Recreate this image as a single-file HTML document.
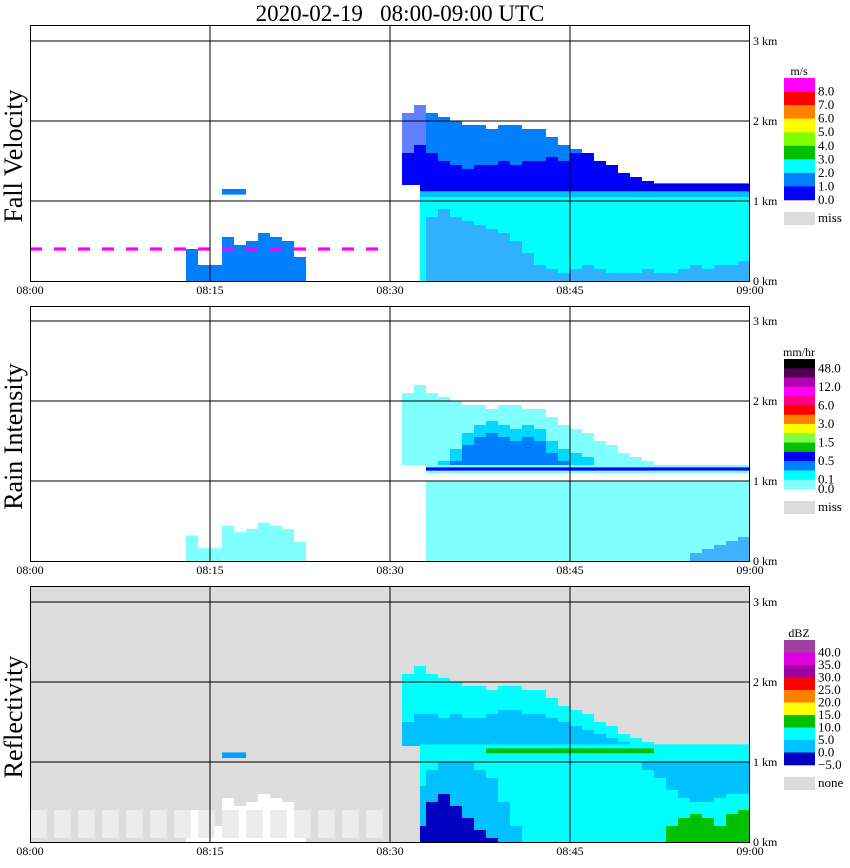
<!DOCTYPE html>
<html><head><meta charset="utf-8"><style>
body{margin:0;background:#fff;width:850px;height:868px;overflow:hidden}
svg{display:block}
text{font-family:"Liberation Serif",serif;fill:#000}
</style></head><body>
<svg id="chart" width="850" height="868" xmlns="http://www.w3.org/2000/svg">
<text x="400" y="21" font-size="23" text-anchor="middle" xml:space="preserve">2020-02-19   08:00-09:00 UTC</text>
<g id="plots"></g>
</svg>
<script>
// ---- data (time in minutes after 08:00, heights in km) ----
const colMin = [31,32,33,34,35,36,37,38,39,40,41,42,43,44,45,46,47,48,49,50,51,52,53,54,55,56,57,58,59];
const cloudTop = [2.1,2.2,2.1,2.05,2.0,1.95,1.95,1.9,1.95,1.95,1.9,1.9,1.8,1.7,1.65,1.6,1.5,1.45,1.35,1.3,1.25,1.2,1.2,1.2,1.2,1.2,1.2,1.2,1.2];
const fallDarkTop = [1.6,1.7,1.6,1.5,1.45,1.4,1.45,1.45,1.5,1.45,1.5,1.5,1.55,1.5,1.6,1.6,1.5,1.45,1.35,1.3,1.25,1.2,1.2,1.2,1.2,1.2,1.2,1.2,1.2];
const rainBlueTop = [0,0,1.3,1.35,1.5,1.7,1.8,1.85,1.8,1.75,1.8,1.75,1.6,1.5,1.45,1.4,1.3,1.25,1.2,1.2,1.2,1.2,1.2,1.2,1.2,1.2,1.2,1.2,1.2];
const reflSkyTop = [1.5,1.6,1.6,1.55,1.6,1.55,1.55,1.6,1.65,1.65,1.6,1.6,1.55,1.5,1.45,1.4,1.35,1.3,1.25,1.2,1.2,1.2,1.2,1.2,1.2,1.2,1.2,1.2,1.2];
const fallLowBlue = [0,0,0.8,0.9,0.8,0.75,0.7,0.65,0.6,0.5,0.35,0.2,0.15,0.1,0.15,0.2,0.15,0.1,0.1,0.1,0.15,0.1,0.1,0.15,0.2,0.15,0.2,0.2,0.25];
const rainLowBlue = [0,0,0,0,0,0,0,0,0,0,0,0,0,0,0,0,0,0,0,0,0,0,0,0,0.1,0.15,0.2,0.25,0.3];
const reflLowSky = [0,0.7,0.9,1.0,1.0,1.0,0.9,0.8,0.5,0.2,0,0,0,0,0,0,0,0,0,0,0,0,0,0,0,0,0,0,0];
const reflLowDark = [0,0.2,0.5,0.6,0.45,0.3,0.15,0.05,0,0,0,0,0,0,0,0,0,0,0,0,0,0,0,0,0,0,0,0,0];
const reflHangBottom = [1,1,1,1,1,1,1,1,1,1,1,1,1,1,1,1,1,1,1,1,0.9,0.8,0.65,0.55,0.5,0.5,0.55,0.6,0.6];
const reflGreenTop = [0,0,0,0,0,0,0,0,0,0,0,0,0,0,0,0,0,0,0,0,0,0,0.2,0.3,0.35,0.3,0.2,0.35,0.4];
const greenStart = 38, greenEnd = 52;
const leftBlobMin = [13,14,15,16,17,18,19,20,21,22];
const leftBlobTop = [0.4,0.2,0.2,0.55,0.45,0.5,0.6,0.55,0.5,0.3];
const dotMin = [0,2,4,6,8,10,12,14,16,18,20,22,24,26,28];
const xTicks = ["08:00","08:15","08:30","08:45","09:00"];
const yTicks = ["0 km","1 km","2 km","3 km"];
const panels = [
 {name:"fall-velocity",title:"Fall Velocity",top:25,base:281,bg:"#fff",unit:"m/s",
  colors:["#ff00ff","#ff0000","#ff8000","#ffff00","#80ff00","#00c000","#00ffff","#0080ff","#0000ff"],
  labels:["8.0","7.0","6.0","5.0","4.0","3.0","2.0","1.0","0.0"],legTop:78,legH:122,miss:"miss"},
 {name:"rain-intensity",title:"Rain Intensity",top:306,base:561,bg:"#fff",unit:"mm/hr",
  colors:["#000000","#500050","#b000b0","#ff00ff","#ff0080","#ff0000","#ff8000","#ffff00","#80ff40","#00c000","#0000ff","#0080ff","#00ffff","#80ffff"],
  labels:["48.0","","12.0","","6.0","","3.0","","1.5","","0.5","","0.1","0.0"],legTop:359,legH:130,miss:"miss"},
 {name:"reflectivity",title:"Reflectivity",top:586,base:842,bg:"#dcdcdc",unit:"dBZ",
  colors:["#a040a0","#e000e0","#a000a0","#ff0000","#ff8000","#ffff00","#00c000","#00ffff","#00c0ff","#0000c0"],
  labels:["40.0","35.0","30.0","25.0","20.0","15.0","10.0","5.0","0.0","−5.0"],legTop:640,legH:125,miss:"none"}
];
const X0=30,X1=750,PX_PER_MIN=12,PX_PER_KM=80;
function xs(m){return X0+m*PX_PER_MIN;}
function ys(p,km){return p.base-km*PX_PER_KM;}
const NS="http://www.w3.org/2000/svg";
const root=document.getElementById('plots');
function mk(tag,attrs,parent){const e=document.createElementNS(NS,tag);for(const k in attrs)e.setAttribute(k,attrs[k]);parent.appendChild(e);return e;}
function box(g,p,m0,m1,k0,k1,c){if(k1<=k0)return;
 const r=mk('rect',{x:xs(m0),y:ys(p,k1),width:xs(m1)-xs(m0),height:ys(p,k0)-ys(p,k1),fill:c},g);
 
 }
panels.forEach((p,pi)=>{
 const g=mk('g',{},root);
 
 
 mk('rect',{x:X0,y:p.top,width:X1-X0,height:p.base-p.top,fill:p.bg},g);
 const dg=mk('g',{},g);
 
 
 colMin.forEach((m,i)=>{
  const m1=m+1, lowStart=Math.max(m,32.5);
  if(pi===0){
   if(m>=33) box(dg,p,m,m1,1.2,cloudTop[i],"#0080ff"); else box(dg,p,m,m1,1.5,cloudTop[i],"#6080ff");
   box(dg,p,m,m1,1.2,fallDarkTop[i],"#0000ff");
   if(m>=32){box(dg,p,lowStart,m1,1.12,1.22,"#0000ee");box(dg,p,lowStart,m1,1.05,1.12,"#00c0ff");
    box(dg,p,lowStart,m1,0,1.05,"#00ffff");box(dg,p,lowStart,m1,0,fallLowBlue[i],"#30b0ff");}
  } else if(pi===1){
   box(dg,p,m,m1,1.2,cloudTop[i],"#80ffff");
   box(dg,p,m,m1,1.2,rainBlueTop[i]-0.1,"#00d8ff");
   box(dg,p,m,m1,1.2,rainBlueTop[i]-0.25,"#0080ff");
   if(m>=33){box(dg,p,lowStart,m1,1.1,1.2,"#80ffff");box(dg,p,lowStart,m1,1.13,1.17,"#0000ff");
    box(dg,p,lowStart,m1,0,1.0,"#80ffff");box(dg,p,lowStart,m1,0,rainLowBlue[i],"#40b0ff");}
  } else {
   box(dg,p,m,m1,1.2,cloudTop[i],"#00ffff");
   box(dg,p,m,m1,1.2,reflSkyTop[i],"#00c0ff");
   if(m>=32){box(dg,p,lowStart,m1,1.08,1.22,"#00ffff");
    if(m>=greenStart&&m<greenEnd) box(dg,p,m,m1,1.11,1.17,"#00c000");
    box(dg,p,lowStart,m1,0,1.08,"#00ffff");box(dg,p,lowStart,m1,0,reflLowSky[i],"#00c0ff");
    box(dg,p,lowStart,m1,0,reflLowDark[i],"#0000c0");
    box(dg,p,m,m1,reflHangBottom[i],1.0,"#00c0ff");
    box(dg,p,m,m1,0,reflGreenTop[i],"#00c000");}
  }
 });
 leftBlobMin.forEach((m,i)=>{
  if(pi===0) box(dg,p,m,m+1,0,leftBlobTop[i],"#0080ff");
  else if(pi===1) box(dg,p,m,m+1,0,leftBlobTop[i]*0.8,"#80ffff");
  else box(dg,p,m,m+1,0,leftBlobTop[i],"#ffffff");
 });
 if(pi===0){dotMin.forEach(m=>box(dg,p,m,m+1,0.38,0.42,"#ff00ff"));box(dg,p,16,18,1.08,1.15,"#0080ff");}
 if(pi===2){dotMin.forEach(m=>box(dg,p,m,m+1.4,0.05,0.4,"#ececec"));box(dg,p,16,18,1.05,1.12,"#00a0ff");}
 for(let k=1;k<=3;k++){const l=mk('line',{x1:X0,x2:X1,y1:ys(p,k),y2:ys(p,k),stroke:"#000"},g);}
 for(let m=15;m<60;m+=15){const l=mk('line',{x1:xs(m),x2:xs(m),y1:p.top,y2:p.base,stroke:"#000"},g);}
 mk('rect',{x:X0+0.5,y:p.top+0.5,width:X1-X0-1,height:p.base-p.top,fill:"none",stroke:"#000"},g);
 xTicks.forEach((t,i)=>{const e=mk('text',{x:xs(i*15),y:p.base+13,'font-size':12,'text-anchor':'middle'},g);e.textContent=t;});
 yTicks.forEach((t,i)=>{const e=mk('text',{x:753,y:ys(p,i)+4,'font-size':12},g);e.textContent=t;});
 const tt=mk('text',{x:0,y:0,'font-size':26,'text-anchor':'middle',transform:`translate(22,${(p.top+p.base)/2+3}) rotate(-90)`},g);
 tt.textContent=p.title;
 const lg=mk('g',{},g);
 const u=mk('text',{x:799,y:p.legTop-3,'font-size':12,'text-anchor':'middle'},lg);u.textContent=p.unit;
 const bh=p.legH/p.colors.length;
 p.colors.forEach((c,i)=>{const r=mk('rect',{x:784,y:p.legTop+i*bh,width:31,height:bh+0.3,fill:c},lg);
  if(p.labels[i]){const e=mk('text',{x:818,y:p.legTop+(i+1)*bh+4,'font-size':13},lg);e.textContent=p.labels[i];}});
 const mb=mk('rect',{x:784,y:p.legTop+p.legH+12,width:31,height:13,fill:"#dcdcdc"},lg);
 const mt=mk('text',{x:818,y:p.legTop+p.legH+22,'font-size':13},lg);mt.textContent=p.miss;
});
</script>
</body></html>
